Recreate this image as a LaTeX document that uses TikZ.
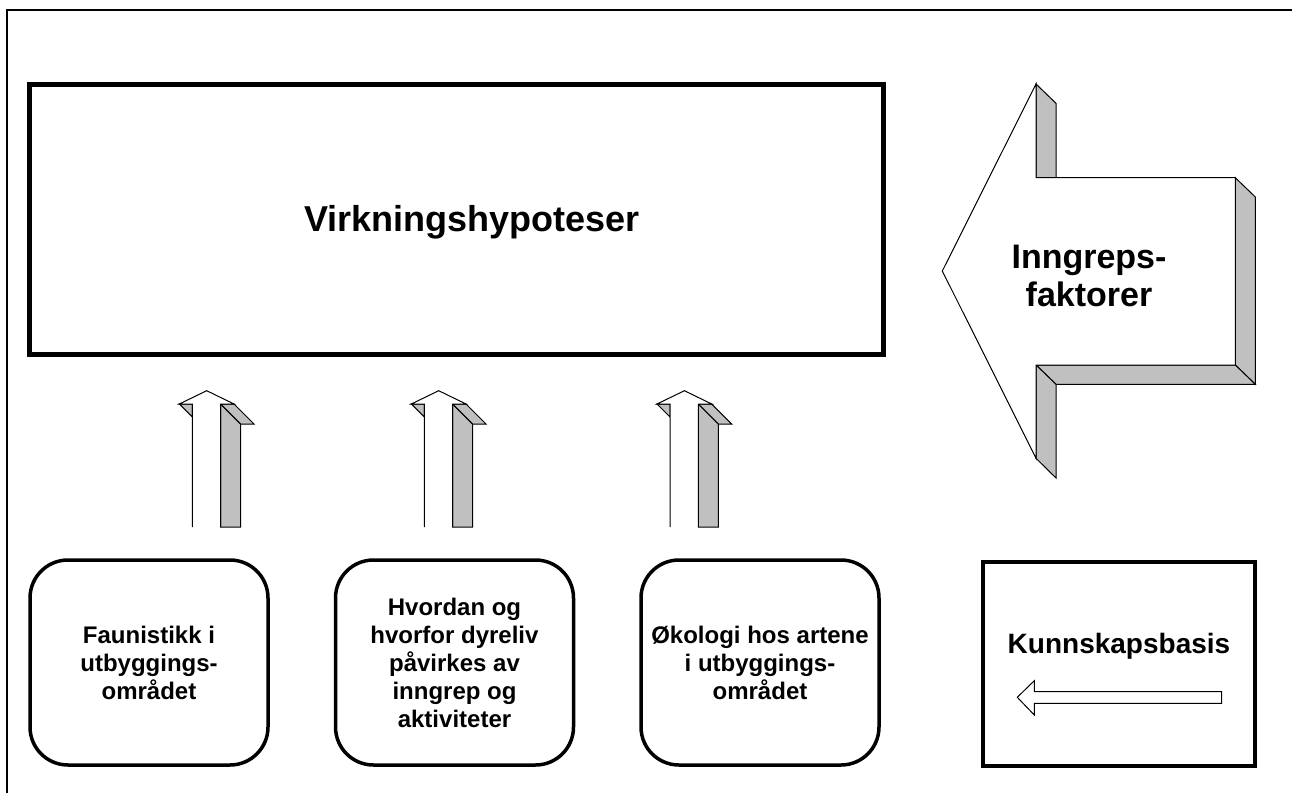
\documentclass[tikz,border=0pt]{standalone}
\usepackage{fontspec}
\setmainfont{Liberation Sans}
\usepackage{tikz}
\usetikzlibrary{positioning}
\definecolor{side}{HTML}{C0C0C0}
\tikzset{
  frameline/.style={draw=black, line width=1.1pt},
  hypbox/.style={draw=black, line width=2.5pt, minimum width=427pt, minimum height=135pt, inner sep=0pt},
  basebox/.style={draw=black, line width=1.75pt, rounded corners=19pt, minimum width=119pt, minimum height=102.5pt, inner sep=0pt, align=center, font=\fontsize{12}{14}\selectfont\bfseries},
  kbbox/.style={draw=black, line width=2pt, minimum width=136pt, minimum height=102pt, inner sep=0pt},
  blockarr/.style={draw=black, line width=0.5pt, line join=miter},
  sideface/.style={blockarr, fill=side},
  bigtxt/.style={font=\fontsize{18}{21}\selectfont\bfseries},
  arrtxt/.style={align=center, font=\fontsize{17}{19}\selectfont\bfseries},
  kbtxt/.style={font=\fontsize{14}{16}\selectfont\bfseries},
}

\begin{document}
\begin{tikzpicture}[x=0.5pt, y=-0.5pt]
  \useasboundingbox (0,0) rectangle (1292,793);
  % outer frame, only top and left
  \draw[frameline] (7,793) -- (7,10) -- (1292,10);

  % hypotheses box
  \node[hypbox] (hyp) at (456,219) {};
  \node[bigtxt] (hyptxt) at (472,222) {Virkningshypoteser};

  % the three knowledge boxes
  \node[basebox] (fauna) at (149,662.5) {Faunistikk i\\utbyggings-\\området};
  \node[basebox, right=32pt of fauna] (dyreliv) {Hvordan og\\hvorfor dyreliv\\påvirkes av\\inngrep og\\aktiviteter};
  \node[basebox, right=32pt of dyreliv] (okologi) {Økologi hos artene\\i utbyggings-\\området};

  % knowledge base box
  \node[kbbox] (kb) at (1119,664) {};
  \node[kbtxt] (kbtxt) at (1119,646) {Kunnskapsbasis};
  \draw[blockarr, fill=white] (1017.3,697.3) -- (1034.3,680.7) -- (1034.3,691.7)
    -- (1221.7,691.7) -- (1221.7,703.3) -- (1034.3,703.3) -- (1034.3,715) -- cycle;

  % 3d block arrows pointing up
  \foreach \L in {192.3,424.3,670} {
    \draw[sideface] ({\L+28.4},404) -- ({\L+48.4},424) -- ({\L+48.4},527) -- ({\L+28.4},527) -- cycle;
    \draw[sideface] ({\L+28.4},404) -- ({\L+41.7},404) -- ({\L+61.7},424) -- ({\L+48.4},424) -- cycle;
    \draw[sideface] ({\L-13},404) -- (\L,404) -- (\L,417) -- cycle;
    \fill[white] (\L,527) -- (\L,404) -- ({\L-13},404) -- ({\L+14.4},390.7)
      -- ({\L+41.7},404) -- ({\L+28.4},404) -- ({\L+28.4},527) -- cycle;
    \draw[blockarr] (\L,527) -- (\L,404) -- ({\L-13},404) -- ({\L+14.4},390.7)
      -- ({\L+41.7},404) -- ({\L+28.4},404) -- ({\L+28.4},527);
  }

  % big 3d arrow pointing left
  \draw[sideface] (1036,84) -- (1056,103.3) -- (1056,177.7) -- (1036,177.7) -- cycle;
  \draw[sideface] (1235.3,177.7) -- (1255.3,197) -- (1255.3,384.3) -- (1235.3,365) -- cycle;
  \draw[sideface] (1036,365) -- (1235.3,365) -- (1255.3,384.3) -- (1056,384.3) -- cycle;
  \draw[sideface] (1036,365) -- (1056,384.3) -- (1056,478) -- (1036,458.3) -- cycle;
  \draw[blockarr, fill=white] (942.3,271) -- (1036,84) -- (1036,177.7) -- (1235.3,177.7)
    -- (1235.3,365) -- (1036,365) -- (1036,458.3) -- cycle;
  \node[arrtxt] (inngrep) at (1089,276) {Inngreps-\\faktorer};
\end{tikzpicture}
\end{document}
